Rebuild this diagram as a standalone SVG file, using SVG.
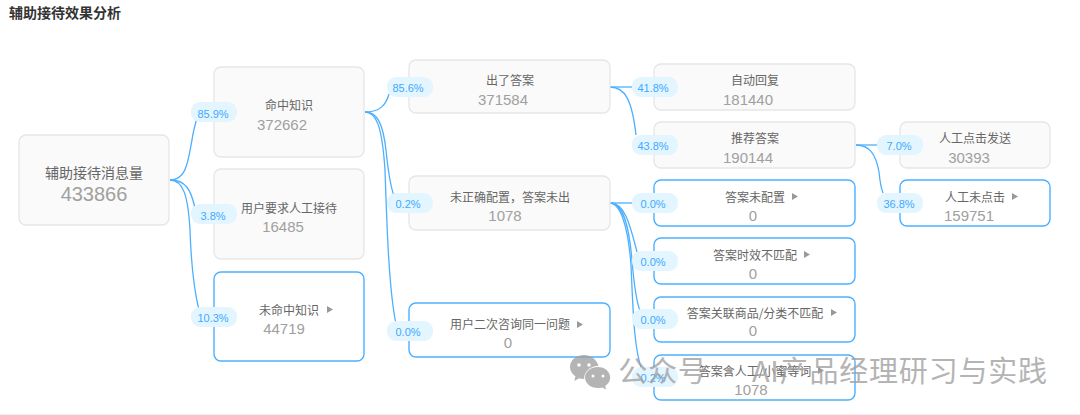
<svg xmlns="http://www.w3.org/2000/svg" width="1080" height="415" viewBox="0 0 1080 415">
<style>
text{font-family:"Liberation Sans","Noto Sans CJK SC",sans-serif;text-anchor:middle}
.b{fill:#fafafa;stroke:#e6e6e6;stroke-width:1.3}
.h{fill:#fff;stroke:#4db0ff;stroke-width:1.4}
.t{font-family:"Noto Sans CJK SC",sans-serif;font-size:12px;fill:#666}
.n{font-size:15px;fill:#a0a0a0}
.p{fill:#e3f5ff}
.l{font-size:11px;fill:#40a9ff}
.c{fill:none;stroke:#4db0ff;stroke-width:1.3}
.a{fill:#999}
</style>
<rect width="1080" height="415" fill="#fff"/>
<rect y="414" width="1080" height="1" fill="#f0f0f0"/>
<text x="65" y="18" style="font-family:'Noto Sans CJK SC',sans-serif;font-size:14px;font-weight:700;fill:#333">辅助接待效果分析</text>
<g id="connectors">
<path class="c" d="M170 180C187 180 188 160 192 140C193 132 195 125 197 118"/>
<path class="c" d="M170 180C186 180 191 190 195 208"/>
<path class="c" d="M170 180C183 180 188 195 190 230C191 260 194 290 199 310"/>
<path class="c" d="M365 112C380 112 386 105 389 94"/>
<path class="c" d="M365 112C378 112 383 125 386 150C388 170 390 185 394 196"/>
<path class="c" d="M365 112C376 112 382 125 385 170C387 230 389 290 396 324"/>
<path class="c" d="M610 87L636 87"/>
<path class="c" d="M610 87C625 87 632 100 636 135"/>
<path class="c" d="M610 203L636 203"/>
<path class="c" d="M610 203C625 203 630 225 637 252"/>
<path class="c" d="M610 203C623 203 629 225 632 260C634 285 636 300 640 311"/>
<path class="c" d="M610 203C620 203 628 225 631 265C633 310 634 350 642 370"/>
<path class="c" d="M856 145L880 145"/>
<path class="c" d="M856 145C870 145 876 155 879 172C880 182 881 188 883 193"/>
</g>
<g id="n0"><rect class="b" x="19" y="135" width="150" height="90" rx="7"/><text class="t" x="94" y="178" style="font-size:14px">辅助接待消息量</text><text class="n" x="94" y="201" style="font-size:20px">433866</text></g>
<g id="n1"><rect class="b" x="214" y="67" width="150" height="90" rx="7"/><text class="t" x="289" y="110">命中知识</text><text class="n" x="282" y="130">372662</text></g>
<g id="n2"><rect class="b" x="214" y="169" width="150" height="90" rx="7"/><text class="t" x="289" y="213">用户要求人工接待</text><text class="n" x="283" y="232">16485</text></g>
<g id="n3"><rect class="h" x="214" y="272" width="150" height="89" rx="7"/><text class="t" x="289" y="315">未命中知识</text><path class="a" d="M327 306l6 3.500l-6 3.500z"/><text class="n" x="284" y="334">44719</text></g>
<g id="n4"><rect class="b" x="409" y="60" width="201" height="53" rx="7"/><text class="t" x="510" y="85">出了答案</text><text class="n" x="503" y="105">371584</text></g>
<g id="n5"><rect class="b" x="409" y="176" width="201" height="54" rx="7"/><text class="t" x="510" y="202">未正确配置，答案未出</text><text class="n" x="505" y="221">1078</text></g>
<g id="n6"><rect class="h" x="409" y="303" width="201" height="54" rx="7"/><text class="t" x="510" y="329">用户二次咨询同一问题</text><path class="a" d="M577 321l6 3.500l-6 3.500z"/><text class="n" x="508" y="348">0</text></g>
<g id="n7"><rect class="b" x="654" y="64" width="201" height="46" rx="7"/><text class="t" x="755" y="85">自动回复</text><text class="n" x="748" y="105">181440</text></g>
<g id="n8"><rect class="b" x="654" y="122" width="201" height="46" rx="7"/><text class="t" x="755" y="143">推荐答案</text><text class="n" x="748" y="163">190144</text></g>
<g id="n9"><rect class="h" x="654" y="180" width="201" height="46" rx="7"/><text class="t" x="755" y="202">答案未配置</text><path class="a" d="M792 193l6 3.500l-6 3.500z"/><text class="n" x="753" y="221">0</text></g>
<g id="n10"><rect class="h" x="654" y="238" width="201" height="46" rx="7"/><text class="t" x="755" y="260">答案时效不匹配</text><path class="a" d="M804 251l6 3.500l-6 3.500z"/><text class="n" x="753" y="279">0</text></g>
<g id="n11"><rect class="h" x="654" y="297" width="201" height="45" rx="7"/><text class="t" x="755" y="318">答案关联商品/分类不匹配</text><path class="a" d="M831 309l6 3.500l-6 3.500z"/><text class="n" x="753" y="336">0</text></g>
<g id="n12"><rect class="h" x="654" y="355" width="201" height="45" rx="7"/><text class="t" x="755" y="376">答案含人工/小蜜等词</text><path class="a" d="M818 367l6 3.500l-6 3.500z"/><text class="n" x="751" y="395">1078</text></g>
<g id="n13"><rect class="b" x="900" y="122" width="150" height="46" rx="7"/><text class="t" x="975" y="143">人工点击发送</text><text class="n" x="969" y="163">30393</text></g>
<g id="n14"><rect class="h" x="900" y="180" width="150" height="46" rx="7"/><text class="t" x="975" y="202">人工未点击</text><path class="a" d="M1012 193l6 3.500l-6 3.500z"/><text class="n" x="969" y="221">159751</text></g>
<g id="labels">
<rect class="p" x="191" y="102" width="46" height="20" rx="9"/><text class="l" x="213" y="118">85.9%</text>
<rect class="p" x="191" y="204" width="46" height="20" rx="9"/><text class="l" x="213" y="220">3.8%</text>
<rect class="p" x="191" y="307" width="46" height="20" rx="9"/><text class="l" x="213" y="322">10.3%</text>
<rect class="p" x="387" y="77" width="46" height="20" rx="9"/><text class="l" x="408" y="92">85.6%</text>
<rect class="p" x="387" y="193" width="46" height="20" rx="9"/><text class="l" x="408" y="208">0.2%</text>
<rect class="p" x="387" y="321" width="46" height="20" rx="9"/><text class="l" x="408" y="336">0.0%</text>
<rect class="p" x="632" y="77" width="46" height="20" rx="9"/><text class="l" x="653" y="92">41.8%</text>
<rect class="p" x="632" y="135" width="46" height="20" rx="9"/><text class="l" x="653" y="150">43.8%</text>
<rect class="p" x="632" y="193" width="46" height="20" rx="9"/><text class="l" x="653" y="208">0.0%</text>
<rect class="p" x="632" y="251" width="46" height="20" rx="9"/><text class="l" x="653" y="266">0.0%</text>
<rect class="p" x="632" y="309" width="46" height="20" rx="9"/><text class="l" x="653" y="324">0.0%</text>
<rect class="p" x="632" y="367" width="46" height="20" rx="9"/><text class="l" x="653" y="382">0.2%</text>
<rect class="p" x="877" y="135" width="46" height="20" rx="9"/><text class="l" x="899" y="150">7.0%</text>
<rect class="p" x="877" y="193" width="46" height="20" rx="9"/><text class="l" x="899" y="208">36.8%</text>
</g>
<g id="watermark" opacity="0.78">
<path fill="#a0a0a0" d="M584 355c-8 0-14 5.500-14 12c0 4 2.200 7 5.500 9.500l-1.300 4.500l5-2.700c1.700.5 3.200.7 5 .7c-.5-6 5-13 13.500-13c.3 0 .5 0 .8 0c-1.500-6-7-11-14.500-11z"/>
<path fill="#a0a0a0" d="M598 367c-7.500 0-13 4.800-13 10.500s5.500 10.500 13 10.500c1.500 0 3-.2 4.300-.6l3.900 2.100l-1-3.600c3-2 5-5 5-8.400c0-5.700-5.500-10.500-12.200-10.500z"/>
<circle cx="579" cy="365" r="1.800" fill="#fff"/><circle cx="589" cy="365" r="1.800" fill="#fff"/><circle cx="593" cy="376" r="1.500" fill="#fff"/><circle cx="603" cy="376" r="1.500" fill="#fff"/>
<text x="833" y="382" style="font-family:'Noto Sans CJK SC',sans-serif;font-size:29px;letter-spacing:.8px;fill:#a0a0a0">公众号 · AI产品经理研习与实践</text>
</g>
</svg>
